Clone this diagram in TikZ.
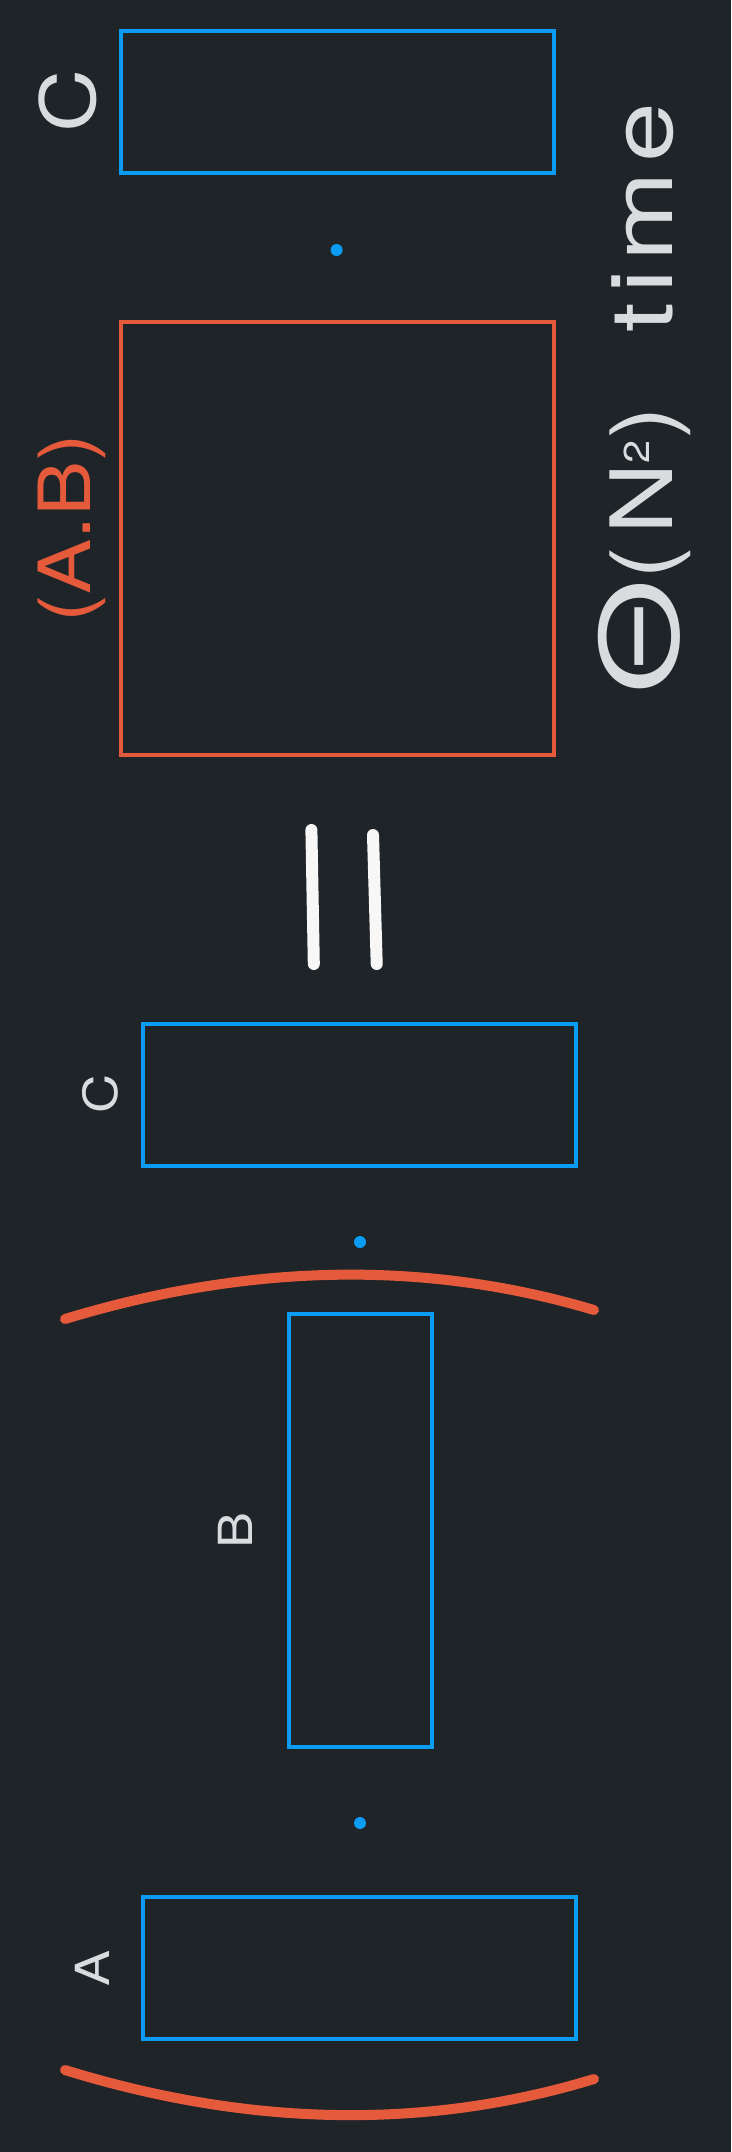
\documentclass[tikz,border=0pt]{standalone}
\usepackage{fontspec}
\setmainfont{TeX Gyre Heros}[FakeStretch=1.15]
\newfontfamily\costfont{TeX Gyre Heros}[FakeStretch=1.15,LetterSpace=14]
\newfontfamily\timefont{TeX Gyre Heros}[FakeStretch=1.25,LetterSpace=10]

\definecolor{bgdark}{HTML}{1F2429}
\definecolor{matblue}{HTML}{0A9CF2}
\definecolor{matorange}{HTML}{E45A3A}
\definecolor{labelgray}{HTML}{D8DCDE}

\begin{document}
\begin{tikzpicture}[
    x=1pt, y=-1pt,
    mat/.style={rectangle, draw=matblue, line width=4pt, inner sep=0pt},
    widemat/.style={mat, minimum width=433pt, minimum height=142pt},
    tallmat/.style={mat, minimum width=143pt, minimum height=433pt},
    prodmat/.style={mat, draw=matorange, minimum width=433pt, minimum height=433pt},
    dotop/.style={circle, fill=matblue, inner sep=0pt, minimum size=12pt},
    biglabel/.style={rotate=90, anchor=base, inner sep=0pt, text=labelgray, font=\fontsize{76}{76}\selectfont},
    smalllabel/.style={biglabel, font=\fontsize{47}{47}\selectfont},
    paren/.style={draw=matorange, line width=10pt, line cap=round},
    equalbar/.style={draw=white!94!gray, line width=12pt, line cap=round}
]
    \fill[bgdark] (0,0) rectangle (731,2152);

    % left side: ( A . B ) . C
    \node[widemat] (A) at (359.5,1968) {};
    \node[tallmat] (B) at (360.5,1530.5) {};
    \node[widemat] (Cl) at (359.5,1095) {};
    \node[dotop] (dotAB) at (360,1823) {};
    \node[dotop] (dotBC) at (360,1242) {};
    \node[smalllabel] (labA) at (109,1968) {A};
    \node[smalllabel] (labB) at (252,1530) {B};
    \node[smalllabel] (labCl) at (117,1094) {C};

    \coordinate (openL) at (65,2070);
    \coordinate (openR) at (594,2079);
    \coordinate (closeL) at (65,1319);
    \coordinate (closeR) at (594,1310);
    \draw[paren] (openL) .. controls (250,2127) and (426,2130) .. (openR);
    \draw[paren] (closeL) .. controls (250,1263) and (426,1260) .. (closeR);

    % equals sign
    \draw[equalbar] (313.8,964) -- (311.4,830);
    \draw[equalbar] (376.7,964) -- (373,835);

    % right side: (A.B) . C
    \node[prodmat] (AB) at (337.5,538.5) {};
    \node[widemat] (Cr) at (337.5,102) {};
    \node[dotop] (dotABC) at (336.6,250) {};
    \node[biglabel, text=matorange, font=\fontsize{72}{72}\selectfont] (labAB) at (90,528) {(A.B)};
    \node[biglabel] (labCr) at (95,101) {C};

    \node[rotate=90, anchor=base west, inner sep=0pt, text=labelgray,
          font=\costfont\fontsize{86}{86}\selectfont] (cost) at (672,695)
        {\raisebox{-6pt}{\scalebox{1.5}[1.25]{Θ}}(N\raisebox{23pt}{\fontsize{36}{36}\selectfont 2})\hspace{75pt}{\timefont time}};
\end{tikzpicture}
\end{document}
